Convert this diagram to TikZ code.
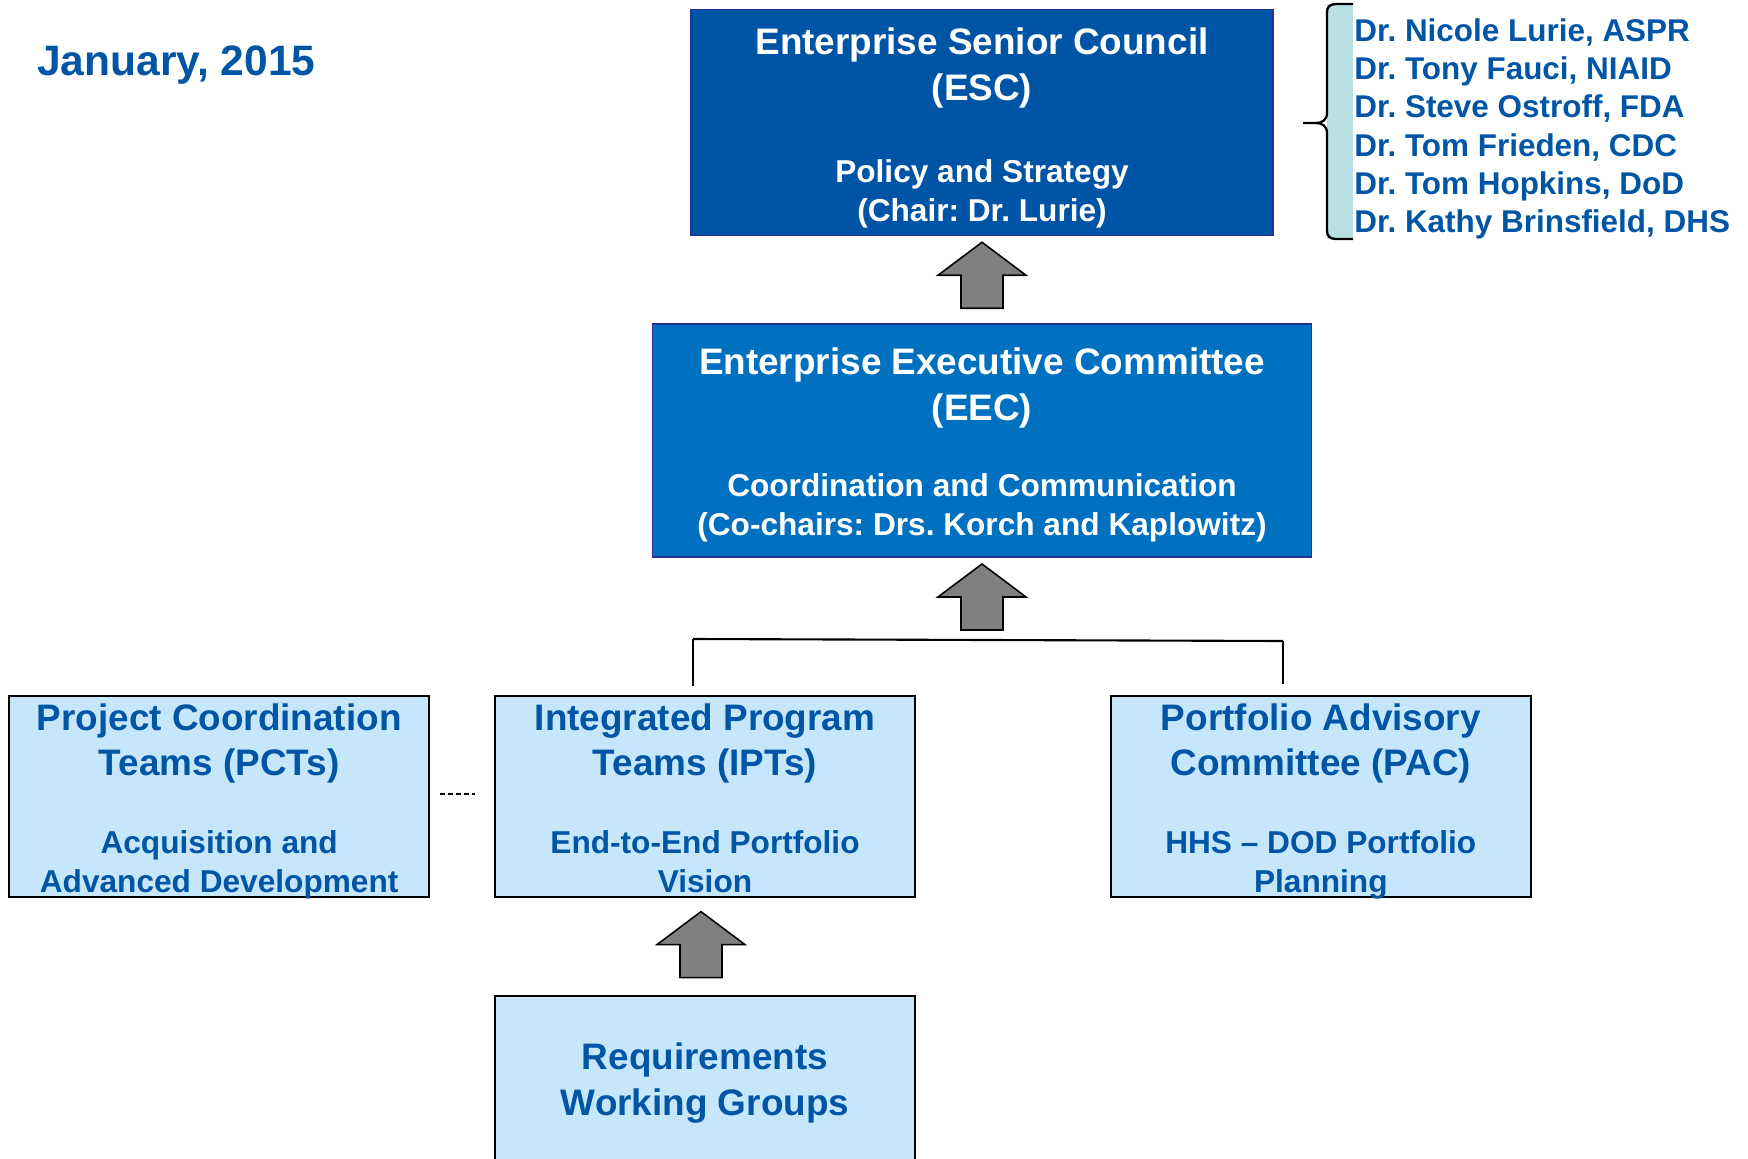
\documentclass[tikz,border=0pt]{standalone}
\usepackage{fontspec}
\setmainfont{Liberation Sans}
\usepackage{tikz}
\usetikzlibrary{positioning, calc}
\frenchspacing

\definecolor{escblue}{RGB}{0,84,165}
\definecolor{eecblue}{RGB}{0,112,192}
\definecolor{teamblue}{RGB}{198,230,252}
\definecolor{textblue}{RGB}{0,85,165}
\definecolor{edgenavy}{RGB}{45,45,150}
\definecolor{arrowgray}{RGB}{128,128,128}
\definecolor{bracefill}{RGB}{185,224,226}

\newcommand{\hdfont}{\fontsize{21}{26}\selectfont\bfseries}
\newcommand{\subfont}{\fontsize{18}{22}\selectfont\bfseries}

\begin{document}
\begin{tikzpicture}[
      x=0.02cm, y=-0.02cm,
      darkbox/.style = {
        draw=edgenavy,
        line width=1pt,
        text=white,
        inner sep=0pt,
        align=flush center
      },
      teambox/.style = {
        draw=black,
        line width=1.1pt,
        fill=teamblue,
        text=textblue,
        inner sep=0pt,
        align=flush center,
        text width=8.4cm,
        text height=19.3pt,
        text depth=94.7pt
      },
      link/.style = {line width=1.2pt},
      uparrow/.pic = {
        \draw[line width=0.9pt, fill=arrowgray]
          (0,0) -- (44,33) -- (21,33) -- (21,66) -- (-21,66) -- (-21,33) -- (-44,33) -- cycle;
      }
    ]

    \useasboundingbox (0,0) rectangle (1748,1159);

    \node[anchor=base west, inner sep=0pt, text=textblue,
          font=\fontsize{24.2}{28}\selectfont\bfseries] (date) at (37,76) {January, 2015};

    \node[darkbox, fill=escblue, text width=11.64cm, text height=25.5pt, text depth=103pt] (esc) at (982,122.5)
      {{\hdfont Enterprise Senior Council\\(ESC)\par}\vspace{25pt}{\subfont Policy and Strategy\\(Chair: Dr. Lurie)\par}};
    \node[darkbox, fill=eecblue, text width=13.18cm, text height=28.9pt, text depth=103.7pt, below=1.74cm of esc] (eec)
      {{\hdfont Enterprise Executive Committee\\(EEC)\par}\vspace{21.2pt}{\subfont Coordination and Communication\\(Co-chairs: Drs. Korch and Kaplowitz)\par}};

    \node[teambox] (ipt) at (705,796.5)
      {{\hdfont Integrated Program\\Teams (IPTs)\par}\vspace{22.1pt}{\subfont End-to-End Portfolio\\Vision\par}};
    \node[teambox, left=1.28cm of ipt] (pct)
      {{\hdfont Project Coordination\\Teams (PCTs)\par}\vspace{22.1pt}{\subfont Acquisition and\\Advanced Development\par}};
    \node[teambox, right=3.88cm of ipt] (pac)
      {{\hdfont Portfolio Advisory\\Committee (PAC)\par}\vspace{22.1pt}{\subfont HHS -- DOD Portfolio\\Planning\par}};
    \node[teambox, text height=42.1pt, text depth=56.6pt, below=1.94cm of ipt] (rwg)
      {\hdfont Requirements\\Working Groups\par};

    % members of the senior council
    \fill[bracefill] (1327,4) rectangle (1353,239);
    \draw[line width=1.3pt] (1353,4) -- (1336,4) .. controls (1330,4) and (1327,7) .. (1327,12)
      -- (1327,113) .. controls (1327,120) and (1322,123) .. (1316,123) -- (1303,123)
      (1316,123) .. controls (1322,123) and (1327,126) .. (1327,133)
      -- (1327,231) .. controls (1327,236) and (1330,239) .. (1336,239) -- (1353,239);
    \node[anchor=north west, inner sep=0pt, align=left, text=textblue,
          font=\fontsize{17.9}{21.8}\selectfont\bfseries] (members) at (1354,18)
      {Dr. Nicole Lurie, ASPR\\Dr. Tony Fauci, NIAID\\Dr. Steve Ostroff, FDA\\Dr. Tom Frieden, CDC\\Dr. Tom Hopkins, DoD\\Dr. Kathy Brinsfield, DHS};

    \pic at ($(esc.south)+(0,6)$) {uparrow};
    \pic at ($(eec.south)+(0,6)$) {uparrow};
    \pic at ($(ipt.south)+(-4,14)$) {uparrow};

    \coordinate (barL) at (693,639);
    \coordinate (barR) at (1283,641);
    \draw[link] (barL) -- (barR);
    \draw[link] (barL) -- ($(barL |- ipt.north)+(0,-9)$);
    \draw[link] (barR) -- ($(barR |- pac.north)+(0,-11)$);

    \draw[line width=0.8pt, dash pattern=on 3pt off 1.5pt] ($(pct.east)+(10,-2.5)$) -- ($(ipt.west)+(-19,-2.5)$);

  \end{tikzpicture}
\end{document}
